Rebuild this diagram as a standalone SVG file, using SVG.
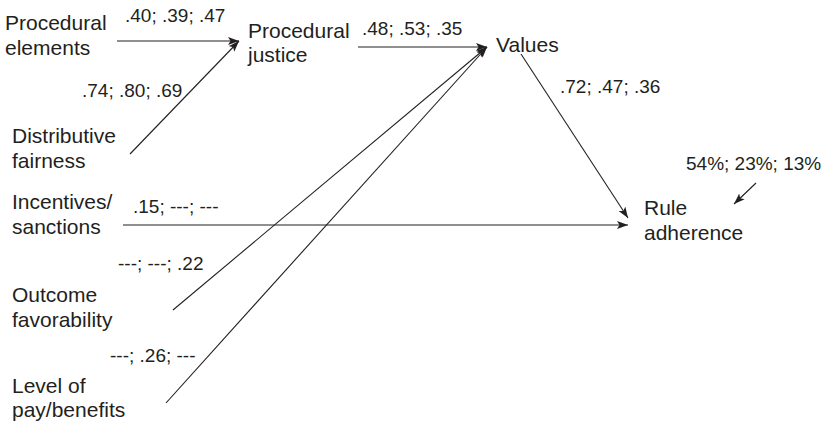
<svg xmlns="http://www.w3.org/2000/svg" width="823" height="421" viewBox="0 0 823 421">
<defs>
<marker id="ah" markerUnits="userSpaceOnUse" markerWidth="12" markerHeight="10" refX="11" refY="4" orient="auto">
<path d="M0,0 L11,4 L0,8 L2.5,4 Z" fill="#231f20"/>
</marker>
</defs>
<style>
text{font-family:"Liberation Sans",Arial,sans-serif;font-size:21px;fill:#231f20}
text.n{font-size:19px}
.c line{stroke:#231f20;stroke-width:1.1}
</style>
<rect width="823" height="421" fill="#fff"/>
<g class="c" id="connectors">
<line x1="117" y1="41" x2="239" y2="41" marker-end="url(#ah)"/>
<line x1="130" y1="154" x2="239" y2="41" marker-end="url(#ah)"/>
<line x1="358" y1="47" x2="487" y2="47" marker-end="url(#ah)"/>
<line x1="173" y1="310" x2="487" y2="47" marker-end="url(#ah)"/>
<line x1="166" y1="403" x2="487" y2="47" marker-end="url(#ah)"/>
<line x1="521" y1="54" x2="628" y2="218" marker-end="url(#ah)"/>
<line x1="123" y1="225" x2="628" y2="225" marker-end="url(#ah)"/>
<line x1="756" y1="183" x2="734" y2="204" marker-end="url(#ah)"/>
<text class="n" x="125" y="22">.40; .39; .47</text>
<text class="n" x="82" y="97">.74; .80; .69</text>
<text class="n" x="362" y="35">.48; .53; .35</text>
<text class="n" x="560" y="93">.72; .47; .36</text>
<text class="n" x="686" y="170">54%; 23%; 13%</text>
<text class="n" x="133" y="213">.15; ---; ---</text>
<text class="n" x="118" y="270">---; ---; .22</text>
<text class="n" x="110" y="362">---; .26; ---</text>
</g>
<g id="procedural-elements"><text x="5" y="30">Procedural</text><text x="5" y="55">elements</text></g>
<g id="distributive-fairness"><text x="12" y="143">Distributive</text><text x="12" y="168">fairness</text></g>
<g id="procedural-justice"><text x="248" y="38">Procedural</text><text x="248" y="62">justice</text></g>
<g id="values"><text x="496" y="52">Values</text></g>
<g id="rule-adherence"><text x="644" y="215">Rule</text><text x="644" y="240">adherence</text></g>
<g id="incentives"><text x="12" y="209">Incentives/</text><text x="12" y="234">sanctions</text></g>
<g id="outcome"><text x="12" y="302">Outcome</text><text x="12" y="327">favorability</text></g>
<g id="pay"><text x="12" y="393">Level of</text><text x="12" y="417">pay/benefits</text></g>
</svg>
